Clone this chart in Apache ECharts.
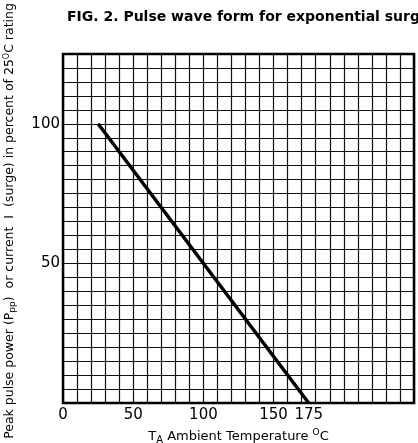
<!DOCTYPE html>
<html>
<head>
<meta charset="utf-8">
<script src="https://cdn.jsdelivr.net/npm/echarts@6/dist/echarts.min.js"></script>
<style>
  html, body { margin: 0; padding: 0; background: #fff; }
  #main { width: 418px; height: 443px; }
</style>
</head>
<body>
<div id="main"></div>
<script>
// derating curve: temperature (C) vs percent of 25C rating
const temps = [25, 175]
const percent = [100, 0]
const xLabels = [0, 50, 100, 150, 175]
const yLabels = [50, 100]

const font = 'DejaVu Sans, sans-serif'
const chart = echarts.init(document.getElementById('main'))

chart.setOption({
  animation: false,
  backgroundColor: '#fff',
  title: {
    text: 'FIG. 2. Pulse wave form for exponential surge',
    left: 62,
    top: 5,
    textStyle: { fontFamily: font, fontSize: 14, fontWeight: 'bold', color: '#000' }
  },
  graphic: [
    {
      type: 'text',
      x: 10,
      y: 221,
      rotation: Math.PI / 2,
      style: {
        text: '{n|Peak pulse power (P}{s|pp}{n|)  or current  I  (surge) in percent of 25}{o|O}{n|C rating}',
        align: 'center',
        verticalAlign: 'middle',
        rich: {
          n: { fontFamily: font, fontSize: 12.5, fill: '#000' },
          s: { fontFamily: font, fontSize: 9, fill: '#000', padding: [6, 0, 0, 0] },
          o: { fontFamily: font, fontSize: 8, fill: '#000', padding: [0, 0, 6, 0] }
        }
      }
    }
  ],
  grid: { left: 63, right: 4, top: 54, bottom: 40, outerBoundsMode: 'none', containLabel: false },
  xAxis: [
    {
      type: 'value',
      position: 'top',
      min: 0,
      max: 250,
      interval: 10,
      axisLine: { show: false },
      axisTick: { show: false },
      axisLabel: { show: false },
      splitLine: { lineStyle: { color: '#111', width: 1.2 } }
    },
    {
      type: 'value',
      position: 'bottom',
      min: 0,
      max: 250,
      interval: 25,
      axisLine: { show: false },
      axisTick: { show: false },
      splitLine: { show: false },
      axisLabel: {
        margin: 5,
        fontFamily: font,
        fontSize: 15,
        color: '#000',
        formatter: v => (xLabels.includes(v) ? String(v) : '')
      },
      name: '{n|T}{s|A}{n| Ambient Temperature }{o|O}{n|C}',
      nameLocation: 'middle',
      nameGap: 23,
      nameTextStyle: {
        rich: {
          n: { fontFamily: font, fontSize: 13, color: '#000' },
          s: { fontFamily: font, fontSize: 10, color: '#000', padding: [9, 0, 0, 0] },
          o: { fontFamily: font, fontSize: 9, color: '#000', padding: [0, 0, 8, 0] }
        }
      }
    }
  ],
  yAxis: {
    type: 'value',
    min: 0,
    max: 125,
    interval: 5,
    axisLine: { show: false },
    axisTick: { show: false },
    axisLabel: {
      margin: 3,
      fontFamily: font,
      fontSize: 15,
      color: '#000',
      formatter: v => (yLabels.includes(v) ? String(v) : '')
    },
    splitLine: { lineStyle: { color: '#111', width: 1.2 } }
  },
  series: [
    {
      type: 'line',
      xAxisIndex: 1,
      data: temps.map((t, i) => [t, percent[i]]),
      symbol: 'none',
      lineStyle: { color: '#000', width: 3.5 },
      markArea: {
        silent: true,
        itemStyle: { color: 'rgba(0,0,0,0)', borderColor: '#000', borderWidth: 2.5 },
        data: [[{ xAxis: 0, yAxis: 0 }, { xAxis: 250, yAxis: 125 }]]
      }
    }
  ]
})
</script>
</body>
</html>
